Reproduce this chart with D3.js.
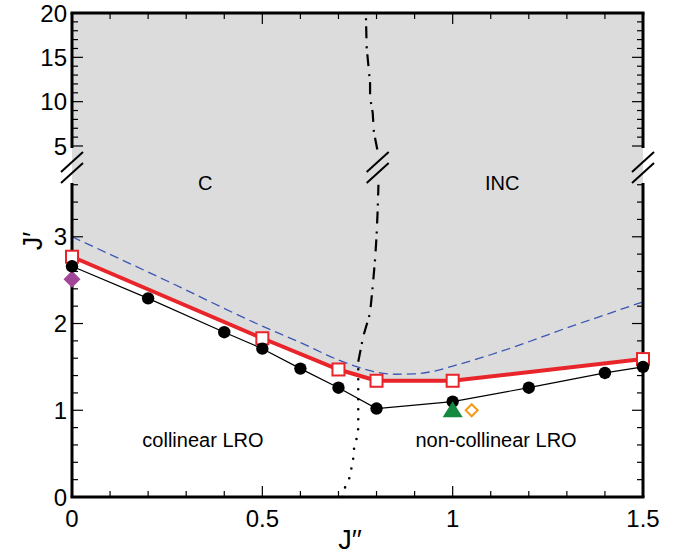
<!DOCTYPE html>
<html><head><meta charset="utf-8">
<script src="https://cdn.jsdelivr.net/npm/d3@7/dist/d3.min.js"></script>
<style>body{margin:0;background:#fff}svg{display:block;font-family:"Liberation Sans",Arial,Helvetica,sans-serif}</style>
</head><body><svg id="c" width="685" height="554"></svg>
<script>
// ---- data ----
const blackX = [0, 0.2, 0.4, 0.5, 0.6, 0.7, 0.8, 1.0, 1.2, 1.4, 1.5];
const blackY = [2.66, 2.29, 1.90, 1.71, 1.48, 1.26, 1.02, 1.10, 1.26, 1.43, 1.50];
const redX = [0, 0.5, 0.7, 0.8, 1.0, 1.5];
const redY = [2.77, 1.83, 1.47, 1.34, 1.34, 1.59];
const blueX = [0, 0.25, 0.5, 0.6, 0.7, 0.75, 0.8, 0.85, 0.9, 0.95, 1.0, 1.1, 1.2, 1.3, 1.4, 1.5];
const blueY = [3.0, 2.49, 1.97, 1.78, 1.58, 1.50, 1.44, 1.415, 1.42, 1.45, 1.51, 1.64, 1.79, 1.95, 2.1, 2.25];
// phase boundary C / INC (lower part: dotted then dash-dot; upper part: dash-dot)
const dotX = [0.71, 0.717, 0.728, 0.734, 0.739, 0.741, 0.748, 0.752, 0.752, 0.752, 0.752];
const dotY = [0.0, 0.107, 0.21, 0.33, 0.45, 0.56, 0.68, 0.79, 1.02, 1.25, 1.56];
const ddLowX = [0.752, 0.765, 0.783, 0.79, 0.796, 0.80, 0.803, 0.805];
const ddLowY = [1.56, 1.85, 2.12, 2.43, 2.73, 3.0, 3.31, 3.6];
const ddUpX = [0.802, 0.793, 0.790, 0.783, 0.783, 0.778, 0.774, 0.772];
const ddUpY = [4.6, 6.58, 8.72, 10.5, 12.1, 14.36, 16.17, 20];
const purpleDiamond = [0, 2.51];
const greenTriangle = [1.0, 1.0];
const orangeDiamond = [1.05, 1.0];
const xTicks = [0, 0.5, 1, 1.5];
const yLowTicks = [0, 1, 2, 3];
const yHighTicks = [5, 10, 15, 20];
const breakX = [0, 0.803, 1.5];
const labels = [
  {t: "C", x: 0.35, y: 3.54},
  {t: "INC", x: 1.13, y: 3.54},
  {t: "collinear LRO", x: 0.344, y: 0.577},
  {t: "non-collinear LRO", x: 1.114, y: 0.577}
];

// ---- scales ----
const svg = d3.select("#c");
const x = d3.scaleLinear().domain([0, 1.5]).range([72, 643]);
const yLow = d3.scaleLinear().domain([0, 3.62]).range([497, 183]);
const yHigh = d3.scaleLinear().domain([5, 20]).range([146, 13]);
const gapTopPix = 148, gapBotPix = 183;

// gray region above red line
const redPts = redX.map((d, i) => [x(d), yLow(redY[i])]);
const grayPath = d3.path();
grayPath.moveTo(redPts[0][0], redPts[0][1]);
redPts.slice(1).forEach(p => grayPath.lineTo(p[0], p[1]));
grayPath.lineTo(x(1.5), yHigh(20));
grayPath.lineTo(x(0), yHigh(20));
grayPath.closePath();
svg.append("path").attr("d", grayPath.toString()).attr("fill", "#dcdcdc");

// blue dashed curve
svg.append("path")
  .attr("d", d3.line().curve(d3.curveMonotoneX)(blueX.map((d, i) => [x(d), yLow(blueY[i])])))
  .attr("fill", "none").attr("stroke", "#3b56b4").attr("stroke-width", 1.3).attr("stroke-dasharray", "9,5");

// boundary lines
const lineXY = (xs, ys, ys2) => d3.line()(xs.map((d, i) => [x(d), ys2(ys[i])]));
svg.append("path").attr("d", lineXY(dotX, dotY, yLow))
  .attr("fill", "none").attr("stroke", "#000").attr("stroke-width", 2.6)
  .attr("stroke-linecap", "round").attr("stroke-dasharray", "0,10");
svg.append("path").attr("d", lineXY(ddLowX, ddLowY, yLow))
  .attr("fill", "none").attr("stroke", "#000").attr("stroke-width", 2.2)
  .attr("stroke-dasharray", "12,6,2,8");
svg.append("path").attr("d", lineXY(ddUpX, ddUpY, yHigh))
  .attr("fill", "none").attr("stroke", "#000").attr("stroke-width", 2.2)
  .attr("stroke-dasharray", "12,6,2,8");

// ---- axes / frame ----
const ax = svg.append("g");
const fw = 3;
ax.append("line").attr("x1", x(0) - 1.5).attr("x2", x(1.5) + 1.5).attr("y1", yHigh(20)).attr("y2", yHigh(20)).attr("stroke", "#000").attr("stroke-width", fw);
ax.append("line").attr("x1", x(0) - 1.5).attr("x2", x(1.5) + 1.5).attr("y1", yLow(0)).attr("y2", yLow(0)).attr("stroke", "#000").attr("stroke-width", fw);
[x(0), x(1.5)].forEach(px => {
  ax.append("line").attr("x1", px).attr("x2", px).attr("y1", yHigh(20)).attr("y2", gapTopPix).attr("stroke", "#000").attr("stroke-width", fw);
  ax.append("line").attr("x1", px).attr("x2", px).attr("y1", gapBotPix).attr("y2", yLow(0)).attr("stroke", "#000").attr("stroke-width", fw);
});
const xMinor = d3.range(0, 1.5001, 0.1);
xMinor.forEach(v => {
  const major = xTicks.some(t => Math.abs(t - v) < 1e-6);
  const L = major ? 11 : 6;
  ax.append("line").attr("x1", x(v)).attr("x2", x(v)).attr("y1", yLow(0)).attr("y2", yLow(0) - L).attr("stroke", "#000").attr("stroke-width", 1.2);
  ax.append("line").attr("x1", x(v)).attr("x2", x(v)).attr("y1", yHigh(20)).attr("y2", yHigh(20) + L).attr("stroke", "#000").attr("stroke-width", 1.2);
});
d3.range(0, 3.6001, 0.2).forEach(v => {
  const major = yLowTicks.some(t => Math.abs(t - v) < 1e-6);
  const L = major ? 11 : 6;
  ax.append("line").attr("x1", x(0)).attr("x2", x(0) + L).attr("y1", yLow(v)).attr("y2", yLow(v)).attr("stroke", "#000").attr("stroke-width", 1.2);
  ax.append("line").attr("x1", x(1.5)).attr("x2", x(1.5) - L).attr("y1", yLow(v)).attr("y2", yLow(v)).attr("stroke", "#000").attr("stroke-width", 1.2);
});
d3.range(5, 20.001, 1).forEach(v => {
  const major = yHighTicks.includes(v);
  const L = major ? 11 : 6;
  ax.append("line").attr("x1", x(0)).attr("x2", x(0) + L).attr("y1", yHigh(v)).attr("y2", yHigh(v)).attr("stroke", "#000").attr("stroke-width", 1.2);
  ax.append("line").attr("x1", x(1.5)).attr("x2", x(1.5) - L).attr("y1", yHigh(v)).attr("y2", yHigh(v)).attr("stroke", "#000").attr("stroke-width", 1.2);
});
breakX.forEach(v => {
  const cx = x(v);
  [[172, 152], [183, 163]].forEach(([y1, y2]) => {
    ax.append("line").attr("x1", cx - 11).attr("y1", y1).attr("x2", cx + 11).attr("y2", y2)
      .attr("stroke", "#000").attr("stroke-width", 2);
  });
});

// red line
svg.append("path").attr("d", d3.line()(redPts))
  .attr("fill", "none").attr("stroke", "#e8252b").attr("stroke-width", 4);
svg.selectAll(".sq").data(redPts).enter().append("rect")
  .attr("x", d => d[0] - 6).attr("y", d => d[1] - 6).attr("width", 12).attr("height", 12)
  .attr("fill", "#fff").attr("stroke", "#e8252b").attr("stroke-width", 2);

// diamond helper (square rotated 45°)
const diamond = h => `M0,${-h}L${h},0L0,${h}L${-h},0Z`;

// purple diamond
svg.append("path").attr("d", diamond(8.5))
  .attr("transform", `translate(${x(purpleDiamond[0])},${yLow(purpleDiamond[1])})`)
  .attr("fill", "#a3469a");

// black line and circles
const blackPts = blackX.map((d, i) => [x(d), yLow(blackY[i])]);
svg.append("path").attr("d", d3.line()(blackPts)).attr("fill", "none").attr("stroke", "#000").attr("stroke-width", 1.2);
svg.selectAll(".ci").data(blackPts).enter().append("circle")
  .attr("cx", d => d[0]).attr("cy", d => d[1]).attr("r", 6.2).attr("fill", "#000");

// green triangle & orange diamond
svg.append("path").attr("d", "M0,-9L10,7L-10,7Z")
  .attr("transform", `translate(${x(greenTriangle[0])},${yLow(greenTriangle[1])})`)
  .attr("fill", "#138a3f");
svg.append("path").attr("d", diamond(6))
  .attr("transform", `translate(${x(orangeDiamond[0])},${yLow(orangeDiamond[1])})`)
  .attr("fill", "#fff").attr("stroke", "#f29a17").attr("stroke-width", 2);

// tick labels
svg.selectAll(".xl").data(xTicks).enter().append("text")
  .attr("x", d => x(d)).attr("y", 527).attr("text-anchor", "middle").attr("font-size", 24).text(d => d3.format("")(d));
svg.selectAll(".yl").data(yLowTicks).enter().append("text")
  .attr("x", 67).attr("y", d => yLow(d) + 8.5).attr("text-anchor", "end").attr("font-size", 24).text(d => d);
svg.selectAll(".yh").data(yHighTicks).enter().append("text")
  .attr("x", 67).attr("y", d => yHigh(d) + 8.5).attr("text-anchor", "end").attr("font-size", 24).text(d => d);

// axis titles
svg.append("text").attr("x", 350).attr("y", 549).attr("text-anchor", "middle").attr("font-size", 27).text("J′′");
svg.append("text").attr("transform", "translate(42,241) rotate(-90)").attr("text-anchor", "middle").attr("font-size", 27).text("J′");

// region labels
svg.selectAll(".rl").data(labels).enter().append("text")
  .attr("x", d => x(d.x)).attr("y", d => yLow(d.y)).attr("text-anchor", "middle").attr("font-size", 20).text(d => d.t);
</script></body></html>
